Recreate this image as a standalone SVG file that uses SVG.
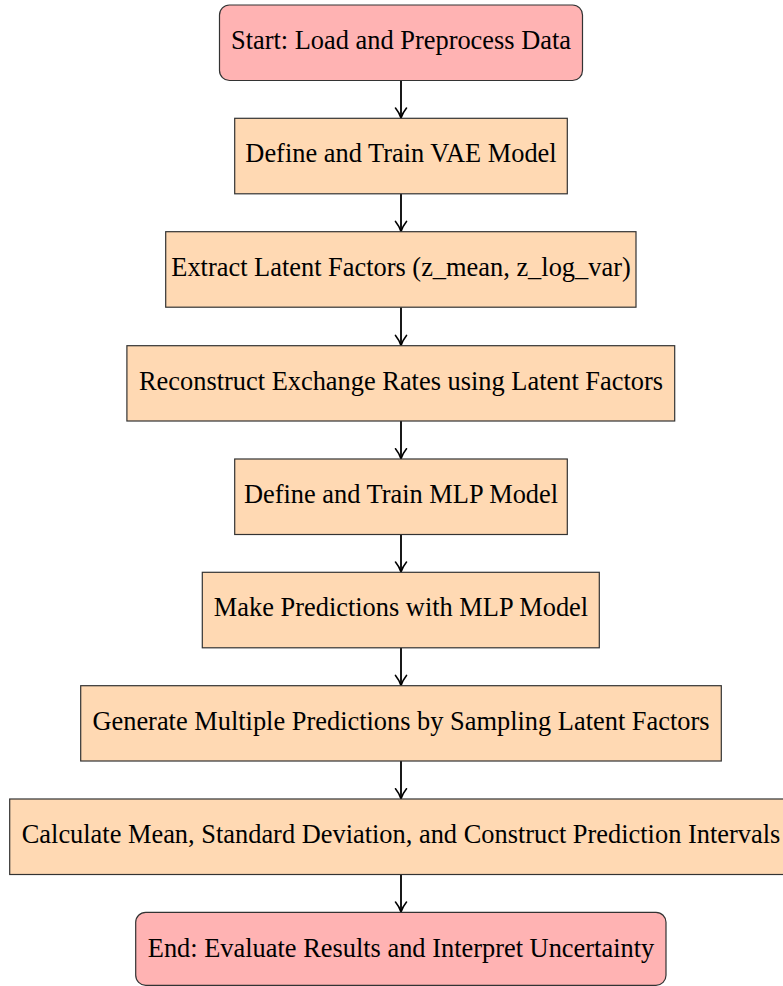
<svg xmlns="http://www.w3.org/2000/svg" width="783" height="986" viewBox="0 0 783 986">
<style>
.t{font-family:"Liberation Serif","Times New Roman",serif;font-size:26.4px;fill:#000;text-anchor:middle}
.term{fill:#FFB3B3;stroke:#333;stroke-width:1.2}
.proc{fill:#FFD9B3;stroke:#333;stroke-width:1.2}
.arr{stroke:#000;stroke-width:1.8;fill:none;marker-end:url(#ah)}
</style>
<defs>
<marker id="ah" viewBox="0 0 12 14" markerWidth="12" markerHeight="14" refX="11" refY="7" orient="auto" markerUnits="userSpaceOnUse">
<path d="M1,1.5 Q6,5.5 11,7 Q6,8.5 1,12.5" fill="none" stroke="#000" stroke-width="1.6" stroke-linecap="round" stroke-linejoin="round"/>
</marker>
</defs>
<g id="connectors">
<line class="arr" x1="401" y1="80.5" x2="401" y2="118"/>
<line class="arr" x1="401" y1="193.8" x2="401" y2="231.4"/>
<line class="arr" x1="401" y1="307.2" x2="401" y2="345.4"/>
<line class="arr" x1="401" y1="421" x2="401" y2="458.8"/>
<line class="arr" x1="401" y1="534.5" x2="401" y2="572"/>
<line class="arr" x1="401" y1="647.8" x2="401" y2="685.4"/>
<line class="arr" x1="401" y1="761" x2="401" y2="798.8"/>
<line class="arr" x1="401" y1="874.5" x2="401" y2="912"/>
</g>
<g id="n1"><rect class="term" x="219.5" y="5" width="363" height="75.5" rx="10"/><text class="t" x="401" y="48.5">Start: Load and Preprocess Data</text></g>
<g id="n2"><rect class="proc" x="234.7" y="118.3" width="332.6" height="75.5"/><text class="t" x="401" y="162">Define and Train VAE Model</text></g>
<g id="n3"><rect class="proc" x="165.7" y="231.7" width="470.3" height="75.5"/><text class="t" x="401" y="276">Extract Latent Factors (z_mean, z_log_var)</text></g>
<g id="n4"><rect class="proc" x="126.9" y="345.7" width="547.8" height="75.3"/><text class="t" x="401" y="389.5">Reconstruct Exchange Rates using Latent Factors</text></g>
<g id="n5"><rect class="proc" x="234.7" y="459" width="332.6" height="75.5"/><text class="t" x="401" y="503">Define and Train MLP Model</text></g>
<g id="n6"><rect class="proc" x="202.3" y="572.3" width="397" height="75.5"/><text class="t" x="401" y="616.3">Make Predictions with MLP Model</text></g>
<g id="n7"><rect class="proc" x="80.7" y="685.7" width="640.6" height="75.3"/><text class="t" x="401" y="730">Generate Multiple Predictions by Sampling Latent Factors</text></g>
<g id="n8"><rect class="proc" x="9.7" y="799" width="782.6" height="75.5"/><text class="t" x="401" y="843">Calculate Mean, Standard Deviation, and Construct Prediction Intervals</text></g>
<g id="n9"><rect class="term" x="135.7" y="912.3" width="530.3" height="73" rx="10"/><text class="t" x="401" y="956.7">End: Evaluate Results and Interpret Uncertainty</text></g>
</svg>
